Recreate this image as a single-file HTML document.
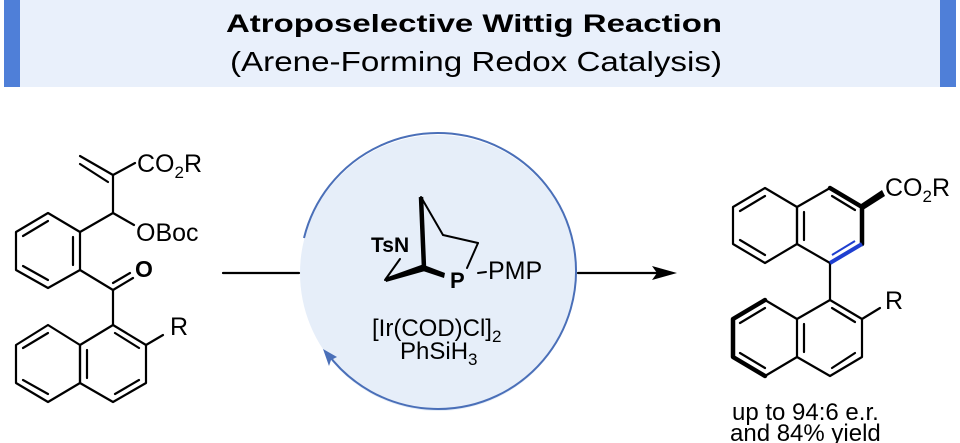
<!DOCTYPE html>
<html><head><meta charset="utf-8"><style>
html,body{margin:0;padding:0;background:#fff;}
svg{display:block;font-family:"Liberation Sans",Arial,sans-serif;}
</style></head><body>
<svg width="960" height="443" viewBox="0 0 960 443" xmlns="http://www.w3.org/2000/svg">
<rect x="4" y="0" width="952" height="87" fill="#e9f0fb"/>
<rect x="4" y="0" width="16" height="87" fill="#4f7fd8"/>
<rect x="940" y="0" width="16" height="87" fill="#4f7fd8"/>
<text x="226" y="32" font-size="25" font-weight="bold" textLength="496" lengthAdjust="spacingAndGlyphs">Atroposelective Wittig Reaction</text>
<text x="230" y="71" font-size="28" textLength="492" lengthAdjust="spacingAndGlyphs">(Arene-Forming Redox Catalysis)</text>

<!-- circle -->
<circle cx="438" cy="273" r="138" fill="#e6eef9"/>
<path d="M304,238 A138,138 0 1 1 327,353" fill="none" stroke="#4a6fb8" stroke-width="2"/>
<polygon points="323,349 337,357 331,360 329,366" fill="#4a6fb8"/>

<g stroke="#000" stroke-width="2.2" fill="none" stroke-linejoin="round" stroke-linecap="round">
<line x1="223" y1="273" x2="299" y2="273"/>
<line x1="578" y1="273" x2="660" y2="273"/>
</g>
<polygon points="652,266 677,273 652,280 657,273" fill="#000"/>

<!-- left molecule -->
<g stroke="#000" stroke-width="2.2" fill="none" stroke-linejoin="round" stroke-linecap="round">
<polygon points="48,213 80,232 80,270 48,288 16,270 16,232"/>
<line x1="48" y1="221" x2="23" y2="236"/>
<line x1="73" y1="237" x2="73" y2="265"/>
<line x1="23" y1="266" x2="48" y2="280"/>
<line x1="80" y1="232" x2="113" y2="213"/>
<line x1="113" y1="213" x2="113" y2="175"/>
<line x1="113" y1="175" x2="80" y2="156"/>
<line x1="108" y1="182" x2="80" y2="164"/>
<line x1="113" y1="175" x2="135" y2="163"/>
<line x1="113" y1="213" x2="134" y2="225"/>
<line x1="80" y1="270" x2="113" y2="290"/>
<line x1="113" y1="290" x2="133" y2="278"/>
<line x1="113" y1="283" x2="130" y2="273"/>
<line x1="113" y1="290" x2="113" y2="325"/>
<polygon points="113,325 146,345 146,383 113,402 80,383 80,345"/>
<polygon points="80,345 48,325 16,345 16,383 48,402 80,383"/>
<line x1="115" y1="333" x2="139" y2="348"/>
<line x1="139" y1="380" x2="115" y2="394"/>
<line x1="87" y1="350" x2="87" y2="378"/>
<line x1="48" y1="333" x2="23" y2="348"/>
<line x1="23" y1="380" x2="48" y2="394"/>
<line x1="146" y1="345" x2="163" y2="335"/>
</g>
<text x="137" y="172" font-size="25">CO<tspan font-size="17" dy="6">2</tspan><tspan dy="-6">R</tspan></text>
<text x="136" y="241" font-size="25">OBoc</text>
<text x="135" y="277" font-size="23" font-weight="bold">O</text>
<text x="170" y="335" font-size="25">R</text>

<!-- catalyst -->
<g stroke="#000" stroke-width="2" fill="none" stroke-linejoin="round" stroke-linecap="round">
<line x1="421" y1="197" x2="443" y2="235"/>
<line x1="443" y1="235" x2="478" y2="243"/>
<line x1="478" y1="243" x2="467" y2="268"/>
<line x1="385" y1="280" x2="400" y2="259"/>
<line x1="478" y1="273" x2="486" y2="272"/>
</g>
<line x1="421" y1="197" x2="424" y2="268" stroke="#000" stroke-width="4.5"/>
<polygon points="424,265 445,273 444,278 423,271" fill="#000"/>
<polygon points="424,264 385,278 386,282 425,271" fill="#000"/>
<text x="371" y="252" font-size="21" font-weight="bold">TsN</text>
<text x="450" y="288" font-size="22" font-weight="bold">P</text>
<text x="488" y="279" font-size="25">PMP</text>
<text x="372" y="336" font-size="24">[Ir(COD)Cl]<tspan font-size="17" dy="6">2</tspan></text>
<text x="400" y="359" font-size="24">PhSiH<tspan font-size="17" dy="6">3</tspan></text>

<!-- product -->
<g stroke="#000" stroke-width="2.2" fill="none" stroke-linejoin="round" stroke-linecap="round">
<polyline points="862,244 862,207 830,188 797,207 797,244 830,263"/>
<polygon points="797,207 765,188 733,207 733,244 765,263 797,244"/>
<line x1="804" y1="212" x2="804" y2="240"/>
<line x1="765" y1="196" x2="740" y2="211"/>
<line x1="740" y1="240" x2="765" y2="255"/>
<line x1="832" y1="196" x2="855" y2="210"/>
<line x1="830" y1="263" x2="830" y2="300"/>
<polygon points="830,300 862,319 862,357 830,376 797,357 797,319"/>
<polyline points="797,319 765,300 733,319 733,357 765,376 797,357"/>
<line x1="804" y1="324" x2="804" y2="352"/>
<line x1="832" y1="308" x2="855" y2="322"/>
<line x1="855" y1="353" x2="832" y2="368"/>
<line x1="765" y1="308" x2="740" y2="323"/>
<line x1="740" y1="353" x2="765" y2="368"/>
<line x1="862" y1="319" x2="880" y2="308"/>
</g>
<g stroke="#000" stroke-width="4.5" fill="none" stroke-linejoin="round" stroke-linecap="round">
<polyline points="830,188 862,207 862,244"/>
<polyline points="765,300 733,319 733,357 765,376"/>
</g>
<polygon points="861,204 882,190 885,196 863,210" fill="#000"/>
<line x1="830" y1="263" x2="862" y2="244" stroke="#1f3fd0" stroke-width="4"/>
<line x1="832" y1="255" x2="855" y2="241" stroke="#1f3fd0" stroke-width="2"/>
<text x="885" y="196" font-size="25">CO<tspan font-size="17" dy="6">2</tspan><tspan dy="-6">R</tspan></text>
<text x="885" y="309" font-size="25">R</text>
<text x="732" y="420" font-size="24">up to 94:6 e.r.</text>
<text x="730" y="441" font-size="24">and 84% yield</text>
</svg>
</body></html>
